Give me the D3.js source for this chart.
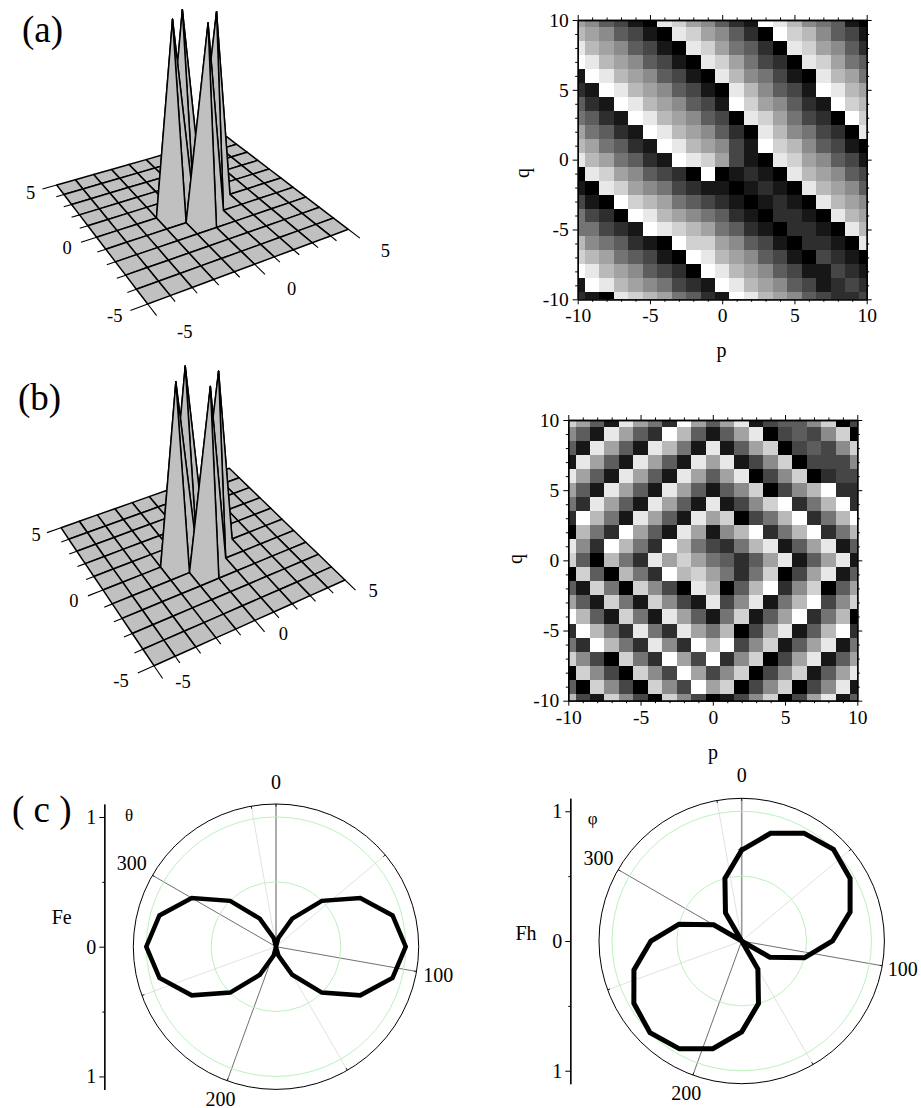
<!DOCTYPE html>
<html>
<head>
<meta charset="utf-8">
<title>Field patterns</title>
<script src="https://cdnjs.cloudflare.com/ajax/libs/d3/7.8.5/d3.min.js"></script>
<style>
	html, body { margin: 0; padding: 0; background: #fff; }
	text { font-family: "Liberation Serif", serif; fill: #000; }
	.tick text { font-family: "Liberation Serif", serif; fill: #000; }
</style>
</head>
<body>
<div id="chart"></div>
<script>
// surface values (all zero on the grid except the four spikes)
const gridValues = [-5, -4, -3, -2, -1, 0, 1, 2, 3, 4, 5];
const surfaceTicks = [-5, 0, 5];
const peakX = [-1, 0, 0, 1];
const peakY = [0, 1, -1, 0];
const peakZa = [1.015, 0.965, 1.025, 0.98];
const peakZb = [1.0, 0.96, 1.01, 0.965];

// grey levels of the two p-q maps, 0 = black, 11 = white, first row is q = 10
const pqValues = [-10, -9, -8, -7, -6, -5, -4, -3, -2, -1, 0, 1, 2, 3, 4, 5, 6, 7, 8, 9, 10];
const heatA = [
	[7, 6, 4, 3, 1, 0, 10, 9, 7, 6, 4, 2, 1, 11, 10, 8, 6, 5, 4, 1, 0],
	[8, 7, 6, 4, 3, 1, 0, 10, 9, 7, 6, 4, 2, 0, 11, 9, 8, 6, 4, 3, 1],
	[10, 8, 7, 6, 4, 3, 1, 0, 10, 9, 7, 5, 4, 2, 0, 10, 9, 7, 6, 4, 2],
	[11, 10, 8, 7, 6, 4, 3, 1, 0, 10, 9, 7, 5, 3, 2, 0, 10, 9, 7, 5, 4],
	[1, 11, 10, 8, 7, 6, 4, 3, 1, 0, 10, 8, 6, 5, 3, 1, 0, 10, 8, 7, 5],
	[2, 1, 11, 10, 8, 7, 6, 4, 3, 1, 0, 10, 8, 6, 4, 3, 1, 11, 10, 8, 7],
	[4, 2, 1, 11, 10, 8, 7, 6, 4, 3, 1, 11, 9, 7, 6, 4, 2, 1, 11, 9, 8],
	[5, 4, 2, 1, 11, 10, 8, 7, 6, 4, 3, 0, 10, 9, 7, 5, 3, 2, 0, 11, 9],
	[7, 5, 4, 2, 1, 11, 10, 8, 7, 6, 4, 2, 0, 10, 8, 6, 5, 3, 2, 0, 10],
	[8, 7, 5, 4, 2, 1, 11, 10, 8, 7, 6, 3, 1, 11, 9, 8, 6, 4, 3, 1, 0],
	[10, 8, 7, 5, 4, 2, 1, 11, 10, 9, 7, 3, 1, 0, 10, 9, 7, 6, 4, 3, 1],
	[0, 10, 9, 7, 6, 4, 3, 2, 0, 11, 0, 1, 2, 1, 0, 10, 8, 7, 6, 4, 3],
	[1, 0, 10, 9, 7, 6, 5, 3, 2, 1, 1, 0, 1, 2, 1, 0, 10, 8, 7, 6, 4],
	[3, 1, 0, 11, 9, 8, 7, 5, 4, 3, 2, 1, 0, 1, 2, 1, 0, 10, 8, 7, 6],
	[5, 3, 2, 0, 11, 10, 8, 7, 6, 5, 4, 2, 1, 0, 2, 2, 1, 0, 10, 8, 7],
	[5, 5, 3, 2, 1, 11, 10, 9, 8, 7, 5, 4, 2, 1, 0, 2, 2, 1, 0, 10, 8],
	[8, 6, 5, 4, 2, 1, 0, 11, 9, 9, 7, 6, 4, 3, 1, 0, 2, 2, 1, 0, 10],
	[9, 8, 7, 5, 4, 3, 1, 0, 11, 10, 8, 7, 6, 4, 3, 1, 0, 3, 2, 1, 0],
	[11, 10, 8, 7, 6, 4, 3, 2, 0, 11, 10, 8, 7, 6, 4, 3, 1, 1, 3, 2, 1],
	[1, 11, 10, 8, 7, 6, 5, 3, 2, 1, 11, 10, 8, 7, 6, 4, 3, 1, 2, 3, 2],
	[2, 1, 0, 10, 9, 8, 7, 5, 4, 2, 1, 11, 10, 8, 7, 6, 4, 3, 2, 2, 3]
];
const heatB = [
	[9, 7, 4, 1, 10, 7, 5, 2, 11, 7, 4, 7, 10, 1, 3, 4, 4, 6, 9, 0, 3],
	[6, 4, 1, 10, 7, 4, 2, 11, 8, 4, 1, 4, 7, 10, 0, 3, 4, 3, 6, 9, 0],
	[4, 1, 10, 7, 4, 1, 10, 8, 5, 1, 10, 1, 4, 7, 9, 0, 3, 4, 3, 6, 9],
	[1, 10, 7, 4, 1, 10, 7, 4, 1, 10, 7, 10, 1, 3, 6, 9, 0, 3, 3, 3, 6],
	[10, 7, 4, 1, 10, 7, 4, 1, 10, 7, 4, 7, 10, 0, 3, 6, 9, 0, 2, 3, 3],
	[7, 4, 1, 10, 7, 4, 1, 10, 7, 4, 1, 4, 6, 9, 0, 3, 6, 8, 11, 2, 2],
	[5, 2, 10, 7, 4, 1, 10, 7, 4, 1, 10, 1, 3, 6, 9, 11, 2, 5, 8, 11, 2],
	[2, 11, 8, 5, 1, 10, 7, 4, 1, 10, 7, 9, 0, 3, 5, 8, 11, 2, 5, 8, 11],
	[0, 8, 5, 2, 11, 7, 4, 1, 10, 7, 1, 6, 8, 11, 2, 5, 8, 11, 2, 5, 8],
	[10, 6, 2, 11, 8, 5, 2, 11, 8, 5, 3, 2, 5, 8, 10, 1, 4, 7, 10, 1, 4],
	[9, 4, 0, 8, 5, 2, 10, 7, 9, 7, 5, 4, 2, 4, 7, 10, 1, 4, 7, 10, 1],
	[0, 9, 4, 0, 8, 5, 2, 11, 8, 9, 7, 5, 2, 5, 9, 0, 3, 7, 10, 1, 4],
	[4, 1, 9, 5, 0, 9, 6, 3, 0, 10, 8, 0, 4, 8, 11, 2, 6, 9, 0, 4, 7],
	[7, 4, 1, 9, 5, 1, 9, 6, 3, 1, 10, 3, 6, 10, 1, 5, 8, 11, 3, 6, 9],
	[11, 8, 4, 1, 9, 5, 1, 10, 7, 4, 1, 5, 9, 1, 4, 7, 11, 2, 5, 8, 0],
	[2, 11, 8, 5, 2, 10, 5, 2, 10, 7, 5, 8, 0, 3, 7, 10, 1, 4, 8, 11, 2],
	[5, 2, 11, 8, 5, 2, 10, 6, 2, 11, 8, 11, 3, 6, 9, 1, 4, 7, 10, 1, 5],
	[9, 6, 3, 0, 9, 5, 2, 11, 7, 3, 11, 2, 6, 9, 0, 3, 7, 10, 1, 4, 7],
	[0, 9, 6, 3, 0, 9, 6, 3, 11, 7, 3, 6, 9, 0, 3, 6, 9, 1, 4, 7, 10],
	[4, 0, 9, 6, 3, 0, 9, 6, 3, 11, 7, 9, 0, 3, 6, 9, 0, 3, 6, 10, 1],
	[8, 3, 1, 9, 6, 3, 0, 9, 6, 3, 0, 1, 3, 6, 9, 0, 3, 7, 10, 1, 4]
];

// polar patterns, angle in degrees, radius read at every vertex
const polarAngles = [0, 15, 30, 45, 60, 75, 90, 105, 120, 135, 150, 165, 180, 195, 210, 225, 240, 255, 270, 285, 300, 315, 330, 345, 360];
const feValues = [0, 0.07, 0.25, 0.5, 0.75, 0.93, 1, 0.93, 0.75, 0.5, 0.25, 0.07, 0, 0.07, 0.25, 0.5, 0.75, 0.93, 1, 0.93, 0.75, 0.5, 0.25, 0.07, 0];
const fhValues = [0.7, 0.86, 0.96, 1, 0.965, 0.865, 0.7, 0.5, 0.25, 0, 0.25, 0.5, 0.7, 0.86, 0.96, 1, 0.96, 0.86, 0.7, 0.5, 0.25, 0, 0.25, 0.5, 0.7];
const majorAngles = [0, 100, 200, 300];
const minorAngles = [50, 150, 250, 350];

const svg = d3.select("#chart").append("svg")
	.attr("width", 921)
	.attr("height", 1108)
	.style("display", "block");

function panelLabel(text, x, y) {
	svg.append("text").attr("x", x).attr("y", y)
		.attr("font-size", 37).style("white-space", "pre").text(text);
}

// maps the unit square on to the four projected corners of the floor
function makeHomography(p0, p1, p2, p3) {
	const dx1 = p1[0] - p2[0], dx2 = p3[0] - p2[0], sx = p0[0] - p1[0] + p2[0] - p3[0];
	const dy1 = p1[1] - p2[1], dy2 = p3[1] - p2[1], sy = p0[1] - p1[1] + p2[1] - p3[1];
	const den = dx1 * dy2 - dx2 * dy1;
	const g = (sx * dy2 - dx2 * sy) / den;
	const h = (dx1 * sy - sx * dy1) / den;
	const a = p1[0] - p0[0] + g * p1[0], b = p3[0] - p0[0] + h * p3[0];
	const d = p1[1] - p0[1] + g * p1[1], e = p3[1] - p0[1] + h * p3[1];
	return (u, v) => {
		const w = g * u + h * v + 1;
		return [(a * u + b * v + p0[0]) / w, (d * u + e * v + p0[1]) / w];
	};
}

function drawSurface(cfg) {
	const g = svg.append("g");
	const xScale = d3.scaleLinear().domain([-5, 5]).range([0, 1]);
	const yScale = d3.scaleLinear().domain([-5, 5]).range([0, 1]);
	const homo = makeHomography(cfg.bottom, cfg.right, cfg.top, cfg.left);
	const floor = (x, y) => homo(xScale(x), yScale(y));
	const zAt = (x, y) => {
		const k = peakX.findIndex((px, n) => px === x && peakY[n] === y);
		return k < 0 ? 0 : cfg.peakZ[k];
	};
	const project = (x, y) => {
		const p = floor(x, y);
		const z = zAt(x, y);
		return [p[0] + z * cfg.lift * (p[0] - cfg.vanish[0]), p[1] + z * cfg.lift * (p[1] - cfg.vanish[1])];
	};

	const cells = [];
	gridValues.slice(0, -1).forEach((x, i) => {
		gridValues.slice(0, -1).forEach((y, j) => {
			cells.push({ x, y, x2: gridValues[i + 1], y2: gridValues[j + 1], order: i + j });
		});
	});
	cells.sort((a, b) => b.order - a.order);

	g.selectAll("path.cell").data(cells).enter().append("path")
		.attr("class", "cell")
		.attr("d", d => d3.line()([project(d.x, d.y), project(d.x2, d.y), project(d.x2, d.y2), project(d.x, d.y2)]) + "Z")
		.attr("fill", "#c0c0c0")
		.attr("stroke", "#000")
		.attr("stroke-width", 1.5)
		.attr("stroke-linejoin", "round");

	// ticks on the two near edges
	const tickLen = v => (surfaceTicks.includes(v) ? 0.75 : 0.4);
	g.selectAll("path.ytick").data(gridValues).enter().append("path")
		.attr("d", v => d3.line()([floor(-5, v), floor(-5 - tickLen(v), v)]))
		.attr("stroke", "#000").attr("stroke-width", 1.1);
	g.selectAll("path.xtick").data(gridValues).enter().append("path")
		.attr("d", v => d3.line()([floor(v, -5), floor(v, -5 - tickLen(v))]))
		.attr("stroke", "#000").attr("stroke-width", 1.1);

	// label offset from the edge changes a little along each axis
	const yOffset = d3.scaleLinear().domain([-5, 5]).range(cfg.yLabelPx);
	const xOffset = d3.scaleLinear().domain([-5, 5]).range(cfg.xLabelPx);
	g.selectAll("text.ylab").data(surfaceTicks).enter().append("text")
		.attr("transform", v => {
			const p = floor(-5, v), o = yOffset(v);
			return `translate(${p[0] + o[0]},${p[1] + o[1]})`;
		})
		.attr("text-anchor", "middle").attr("dy", "0.35em").attr("font-size", 18.5)
		.text(v => v);
	g.selectAll("text.xlab").data(surfaceTicks).enter().append("text")
		.attr("transform", v => {
			const p = floor(v, -5), o = xOffset(v);
			return `translate(${p[0] + o[0]},${p[1] + o[1]})`;
		})
		.attr("text-anchor", "middle").attr("dy", "0.35em").attr("font-size", 18.5)
		.text(v => v);
}

function drawHeat(cfg) {
	const g = svg.append("g");
	const x = d3.scaleLinear().domain([-10, 10]).range([cfg.x0, cfg.x1]).clamp(true);
	const y = d3.scaleLinear().domain([-10, 10]).range([cfg.y1, cfg.y0]).clamp(true);
	const grey = d3.scaleLinear().domain([0, 11]).range(["#000", "#fff"]);

	const rows = g.selectAll("g.row").data(cfg.values).enter().append("g").attr("class", "row");
	rows.selectAll("rect").data((row, i) => row.map((v, j) => ({ v, p: pqValues[j], q: pqValues[20 - i] })))
		.enter().append("rect")
		.attr("x", d => x(d.p - 0.5))
		.attr("width", d => x(d.p + 0.5) - x(d.p - 0.5))
		.attr("y", d => y(d.q + 0.5))
		.attr("height", d => y(d.q - 0.5) - y(d.q + 0.5))
		.attr("fill", d => grey(d.v))
		.attr("shape-rendering", "crispEdges");

	const minor = pqValues.filter(v => v % 5 !== 0);
	const major = pqValues.filter(v => v % 5 === 0);
	const addAxis = (axisFn, scale, tx, ty, vals, size, labels) => {
		const a = axisFn(scale).tickValues(vals).tickSizeInner(size).tickSizeOuter(0).tickPadding(4)
			.tickFormat(labels ? d => d : "");
		const sel = g.append("g").attr("transform", `translate(${tx},${ty})`).call(a);
		sel.attr("font-size", 19.5).attr("font-family", '"Liberation Serif", serif');
		sel.selectAll("line").attr("stroke", "#000").attr("stroke-width", 1);
		sel.select(".domain").attr("stroke", "#000").attr("stroke-width", 1.3);
	};
	[[d3.axisBottom, x, 0, cfg.y1, true], [d3.axisTop, x, 0, cfg.y0, false],
	 [d3.axisLeft, y, cfg.x0, 0, true], [d3.axisRight, y, cfg.x1, 0, false]].forEach(s => {
		addAxis(s[0], s[1], s[2], s[3], minor, 2.5, false);
		addAxis(s[0], s[1], s[2], s[3], major, 5, s[4]);
	});

	g.append("text").attr("x", cfg.pLabel[0]).attr("y", cfg.pLabel[1])
		.attr("text-anchor", "middle").attr("font-size", 20).text("p");
	g.append("text").attr("transform", `translate(${cfg.qLabel}) rotate(-90)`)
		.attr("text-anchor", "middle").attr("font-size", 20).text("q");
}

function drawPolar(cfg) {
	const g = svg.append("g").attr("transform", `translate(${cfg.cx},${cfg.cy})`);
	const r = d3.scaleLinear().domain([0, 1.1]).range([0, cfg.radius]);
	const angle = d3.scaleLinear().domain([0, 360]).range([0, 2 * Math.PI]);
	const point = (deg, v) => [r(v) * Math.sin(angle(deg)), -r(v) * Math.cos(angle(deg))];

	g.selectAll("line.minor").data(minorAngles).enter().append("line")
		.attr("x2", d => point(d, 1.1)[0]).attr("y2", d => point(d, 1.1)[1])
		.attr("stroke", "#e2e2e2").attr("stroke-width", 1);
	g.selectAll("line.major").data(majorAngles).enter().append("line")
		.attr("x2", d => point(d, 1.1)[0]).attr("y2", d => point(d, 1.1)[1])
		.attr("stroke", d => (d === 0 ? "#999" : "#707070"))
		.attr("stroke-width", d => (d === 0 ? 1.6 : 1));
	g.selectAll("line.rimtick").data(majorAngles.concat(minorAngles)).enter().append("line")
		.attr("x1", d => point(d, 1.08)[0]).attr("y1", d => point(d, 1.08)[1])
		.attr("x2", d => point(d, 1.1)[0]).attr("y2", d => point(d, 1.1)[1])
		.attr("stroke", "#222").attr("stroke-width", 1);

	g.selectAll("circle.ring").data([0.5, 1]).enter().append("circle")
		.attr("r", d => r(d)).attr("fill", "none")
		.attr("stroke", "#b4eeb4").attr("stroke-width", 0.9);
	g.append("circle").attr("r", r(1.1)).attr("fill", "none").attr("stroke", "#000").attr("stroke-width", 1);

	const radial = d3.lineRadial()
		.angle((d, i) => angle(polarAngles[i]))
		.radius(d => r(d));
	g.append("path").attr("d", radial(cfg.values))
		.attr("fill", "none").attr("stroke", "#000").attr("stroke-width", cfg.lineWidth)
		.attr("stroke-linecap", "square").attr("stroke-linejoin", "miter");

	g.selectAll("text.ang").data(majorAngles).enter().append("text")
		.attr("x", (d, i) => point(d, cfg.labelAt[i])[0]).attr("y", (d, i) => point(d, cfg.labelAt[i])[1])
		.attr("text-anchor", "middle").attr("dy", "0.33em").attr("font-size", 20)
		.text(d => d);

	// vertical scale beside the circle
	const y = d3.scaleLinear().domain([-1.1, 1.1]).range([cfg.cy + cfg.radius, cfg.cy - cfg.radius]);
	const major = d3.axisLeft(y).tickValues([-1, 0, 1]).tickFormat(d => Math.abs(d)).tickSizeInner(5).tickSizeOuter(0).tickPadding(3);
	const minor = d3.axisLeft(y).tickValues([-0.5, 0.5]).tickFormat("").tickSizeInner(2).tickSizeOuter(0);
	[major, minor].forEach(a => {
		const sel = svg.append("g").attr("transform", `translate(${cfg.axisX},0)`).call(a);
		sel.attr("font-size", 20).attr("font-family", '"Liberation Serif", serif');
		sel.selectAll("line").attr("stroke", "#000");
		sel.select(".domain").attr("stroke", "#000").attr("stroke-width", 1.2);
	});

	svg.append("text").attr("x", cfg.nameAt[0]).attr("y", cfg.nameAt[1])
		.attr("text-anchor", "middle").attr("dy", "0.35em").attr("font-size", 20).text(cfg.name);
	svg.append("text").attr("x", cfg.symbolAt[0]).attr("y", cfg.symbolAt[1])
		.attr("text-anchor", "middle").attr("dy", "0.35em").attr("font-size", 17).text(cfg.symbol);
}

panelLabel("(a)", 22, 42);
panelLabel("(b)", 18, 410);
panelLabel("( c )", 12, 822);

drawSurface({
	bottom: [147.7, 304], right: [348.3, 229.3], top: [226.7, 136.7], left: [56.7, 185],
	vanish: [190, 1160], lift: 0.2, peakZ: peakZa,
	yLabelPx: [[-33, 12], [-26, 8]], xLabelPx: [[37, 28], [37, 21]]
});
drawSurface({
	bottom: [154, 665.7], right: [345, 580], top: [229.3, 468.3], left: [61, 527.7],
	vanish: [195, 1450], lift: 0.2, peakZ: peakZb,
	yLabelPx: [[-33, 15], [-25, 7]], xLabelPx: [[29, 16], [28, 11]]
});

drawHeat({ x0: 577.7, x1: 866.7, y0: 20, y1: 299.3, values: heatA, pLabel: [721.5, 357], qLabel: [528.6, 173] });
drawHeat({ x0: 568.3, x1: 857.3, y0: 420, y1: 700.7, values: heatB, pLabel: [713, 759], qLabel: [521.6, 559] });

drawPolar({
	cx: 276, cy: 946.7, radius: 142.7, values: feValues, lineWidth: 4.5, axisX: 104.3,
	labelAt: [1.27, 1.27, 1.25, 1.285],
	name: "Fe", nameAt: [61.7, 916.7], symbol: "θ", symbolAt: [129, 815]
});
drawPolar({
	cx: 741.7, cy: 941, radius: 142.7, values: fhValues, lineWidth: 5, axisX: 570.3,
	labelAt: [1.275, 1.26, 1.25, 1.275],
	name: "Fh", nameAt: [526, 933], symbol: "φ", symbolAt: [592.7, 818]
});
</script>
</body>
</html>
